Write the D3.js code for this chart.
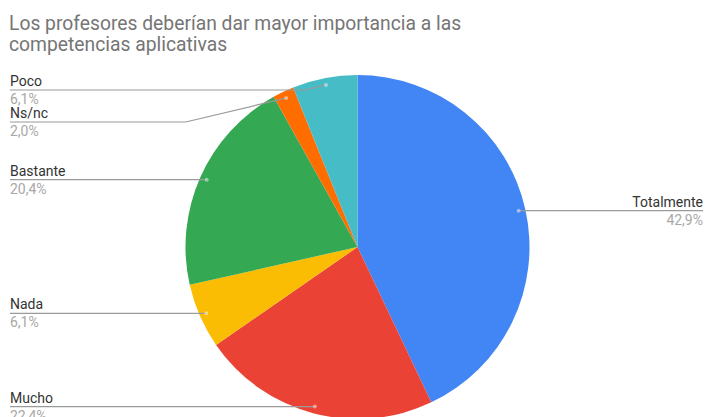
<!DOCTYPE html>
<html><head><meta charset="utf-8">
<script src="https://cdn.jsdelivr.net/npm/d3@7"></script>
<style>body{margin:0;background:#fff}svg{display:block;font-family:Roboto,Arial,sans-serif}</style>
</head><body><svg id="c" width="705" height="417"></svg>
<script>
const titleLines = ["Los profesores deberían dar mayor importancia a las", "competencias aplicativas"];
const categories = ["Totalmente", "Mucho", "Nada", "Bastante", "Ns/nc", "Poco"];
const values = [42.9, 22.4, 6.1, 20.4, 2.0, 6.1];
const valueLabels = ["42,9%", "22,4%", "6,1%", "20,4%", "2,0%", "6,1%"];
const colors = ["#4285f4", "#ea4335", "#fbbc04", "#34a853", "#ff6d01", "#46bdc6"];

const svg = d3.select("#c");
const W = 705, H = 417;
const cx = 357.5, cy = 247, R = 172;

svg.append("g").selectAll("text").data(titleLines).join("text")
  .attr("x", 9).attr("y", (d, i) => 30 + i * 21)
  .attr("font-size", 19.3).attr("fill", "#757575").text(d => d);

const data = categories.map((c, i) => ({ cat: c, value: values[i], label: valueLabels[i], color: colors[i] }));
const pie = d3.pie().sort(null).value(d => d.value);
const arcs = pie(data);
const arc = d3.arc().innerRadius(0).outerRadius(R);

const g = svg.append("g").attr("transform", `translate(${cx},${cy})`);
g.selectAll("path").data(arcs).join("path").attr("d", arc).attr("fill", d => d.data.color);

// label layout
const dotR = R * 0.96;
const items = arcs.map(a => {
  const m = (a.startAngle + a.endAngle) / 2;
  return { a, m, dx: cx + dotR * Math.sin(m), dy: cy - dotR * Math.cos(m), left: Math.sin(m) < 0 };
});
const lefts = items.filter(d => d.left).sort((p, q) => p.dy - q.dy);
let prev = -Infinity;
lefts.forEach(d => { d.ly = Math.max(d.dy, prev + 32, 90); prev = d.ly; });
items.filter(d => !d.left).forEach(d => { d.ly = d.dy; });

const lab = svg.append("g");
items.forEach(d => {
  const off = Math.abs(d.ly - d.dy);
  const bendX = d.left ? d.dx - off * 4.2 : d.dx + off * 4.2;
  const endX = d.left ? 10 : 703;
  lab.append("path")
    .attr("d", d3.line()([[endX, d.ly], [bendX, d.ly], [d.dx, d.dy]]))
    .attr("fill", "none").attr("stroke", "#9a9a9a").attr("stroke-width", 1.2);
  lab.append("circle").attr("cx", d.dx).attr("cy", d.dy).attr("r", 2)
    .attr("fill", "#fff").attr("fill-opacity", 0.45);
  const anchor = d.left ? "start" : "end";
  lab.append("text").attr("x", endX).attr("y", d.ly - 4).attr("text-anchor", anchor)
    .attr("font-size", 14).attr("fill", "#333").text(d.a.data.cat);
  lab.append("text").attr("x", endX).attr("y", d.ly + 14).attr("text-anchor", anchor)
    .attr("font-size", 14).attr("fill", "#a8a8a8").text(d.a.data.label);
});
</script></body></html>
